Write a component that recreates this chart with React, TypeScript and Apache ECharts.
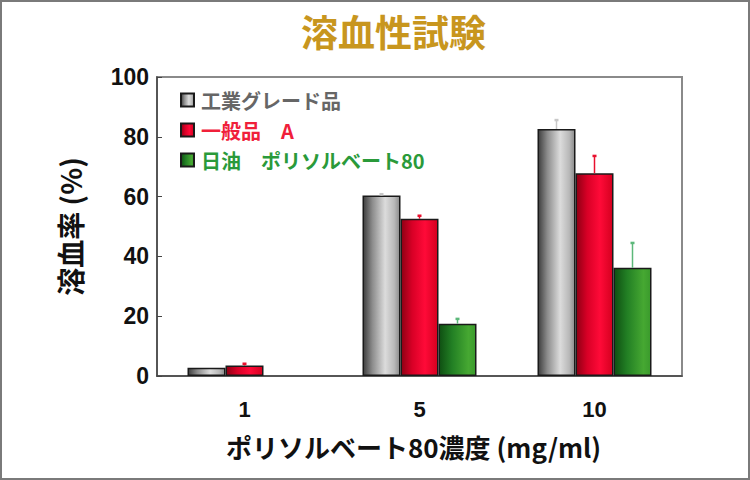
import React, { useEffect, useRef } from "react";
import * as echarts from "echarts";

const categories = ["1", "5", "10"];
const seriesNames = ["工業グレード品", "一般品　A", "日油　ポリソルベート80"];
const industrial = [2.8, 60.4, 82.6];
const industrialErr = [0, 0.4, 3.0];
const generalA = [3.5, 52.6, 67.8];
const generalAErr = [0.6, 1.0, 5.8];
const nof = [null, 17.5, 36.2];
const nofErr = [0, 1.6, 8.3];
const yTicks = { min: 0, max: 100, interval: 20 };

const FONT = '"Liberation Sans", "Noto Sans CJK JP", sans-serif';
const CJK = '"Noto Sans CJK JP", "Liberation Sans", sans-serif';
const BAR_W = 38;

const grad = (stops: [number, string][]) =>
  new echarts.graphic.LinearGradient(
    0,
    0,
    1,
    0,
    stops.map(([offset, color]) => ({ offset, color }))
  );

const greyFill = () =>
  grad([
    [0, "#3e3e3e"],
    [0.25, "#8c8c8c"],
    [0.6, "#dcdcdc"],
    [0.85, "#b8b8b8"],
    [1, "#8a8a8a"],
  ]);
const redFill = () =>
  grad([
    [0, "#8e0014"],
    [0.3, "#d80026"],
    [0.65, "#ff0a38"],
    [1, "#d4001f"],
  ]);
const greenFill = () =>
  grad([
    [0, "#0f4f12"],
    [0.35, "#227f24"],
    [0.8, "#46a832"],
    [1, "#3a9a2c"],
  ]);

const errColors = ["#c8c8c8", "#e8102e", "#5cb87a"];
const textColors = ["#666666", "#f0203a", "#2a9a3a"];

export default function App() {
  const ref = useRef<HTMLDivElement>(null);
  useEffect(() => {
    if (!ref.current) return;
    const chart = echarts.init(ref.current, undefined, { renderer: "svg" });
    const means = [industrial, generalA, nof];
    const errs = [industrialErr, generalAErr, nofErr];
    const fills = [greyFill(), redFill(), greenFill()];

    const barSeries = means.map((vals, si) => ({
      type: "bar",
      name: seriesNames[si],
      data: vals.map((v) => (v === null ? "-" : v)),
      barWidth: BAR_W,
      barGap: "0%",
      itemStyle: {
        color: fills[si],
        borderColor: "#1a1a1a",
        borderWidth: 1.5,
      },
      z: 2,
    }));

    const errSeries = means.map((vals, si) => ({
      type: "custom",
      name: "err" + si,
      z: 3,
      data: vals
        .map((v, i) => (v === null || errs[si][i] <= 0 ? null : [i, v, v + errs[si][i]]))
        .filter((d) => d !== null),
      renderItem: (params: any, api: any) => {
        const base = api.coord([api.value(0), api.value(1)]);
        const top = api.coord([api.value(0), api.value(2)]);
        const x = base[0] + (si - 1) * BAR_W;
        return {
          type: "group",
          children: [
            {
              type: "line",
              shape: { x1: x, y1: base[1], x2: x, y2: top[1] },
              style: { stroke: errColors[si], lineWidth: 1.5 },
            },
            {
              type: "line",
              shape: { x1: x - 2, y1: top[1], x2: x + 2, y2: top[1] },
              style: { stroke: errColors[si], lineWidth: 2.5 },
            },
          ],
        };
      },
    }));

    chart.setOption({
      animation: false,
      backgroundColor: "#ffffff",
      title: {
        text: "溶血性試験",
        left: 296,
        top: 7,
        textStyle: {
          fontFamily: CJK,
          fontSize: 37,
          fontWeight: "bold",
          color: "#C8961E",
        },
      },
      graphic: [
        {
          type: "rect",
          shape: { x: 1, y: 1, width: 748, height: 478 },
          style: { fill: "none", stroke: "#7a7a7a", lineWidth: 2 },
          silent: true,
        },
      ],
      legend: {
        orient: "vertical",
        left: 180,
        top: 90,
        padding: 0,
        itemWidth: 13,
        itemHeight: 13,
        itemGap: 10,
        icon: "rect",
        data: seriesNames.map((n, i) => ({
          name: n,
          textStyle: { color: textColors[i] },
        })),
        textStyle: {
          fontFamily: CJK,
          fontSize: 20,
          fontWeight: "bold",
          padding: [0, 0, 0, 2],
        },
      },
      grid: {
        left: 157,
        top: 77,
        width: 525,
        height: 299,
        show: true,
        borderColor: "#8a8a8a",
        borderWidth: 2,
        backgroundColor: "transparent",
      },
      xAxis: {
        type: "category",
        data: categories,
        axisTick: { show: false },
        axisLine: { lineStyle: { color: "#444", width: 1.5 } },
        axisLabel: {
          fontFamily: FONT,
          fontSize: 22,
          fontWeight: "bold",
          color: "#111",
          margin: 22,
        },
        name: "ポリソルベート80濃度 (mg/ml)",
        nameLocation: "middle",
        nameGap: 57,
        nameTextStyle: {
          fontFamily: CJK,
          fontSize: 26,
          fontWeight: "bold",
          color: "#111",
          padding: [0, 12, 0, 0],
        },
      },
      yAxis: {
        type: "value",
        min: yTicks.min,
        max: yTicks.max,
        interval: yTicks.interval,
        splitLine: { show: false },
        axisLine: { show: true, lineStyle: { color: "#444", width: 1.5 } },
        axisTick: { show: true, inside: true, length: 5, lineStyle: { color: "#444" } },
        axisLabel: {
          fontFamily: FONT,
          fontSize: 23,
          fontWeight: "bold",
          color: "#111",
          margin: 8,
        },
        name: "溶血率 (%)",
        nameLocation: "middle",
        nameGap: 73,
        nameTextStyle: {
          fontFamily: CJK,
          fontSize: 28,
          fontWeight: "bold",
          color: "#111",
        },
      },
      series: [...barSeries, ...errSeries],
    });
    return () => chart.dispose();
  }, []);
  return (
    <div
      ref={ref}
      style={{ position: "absolute", left: 0, top: 0, width: 750, height: 480 }}
    />
  );
}
